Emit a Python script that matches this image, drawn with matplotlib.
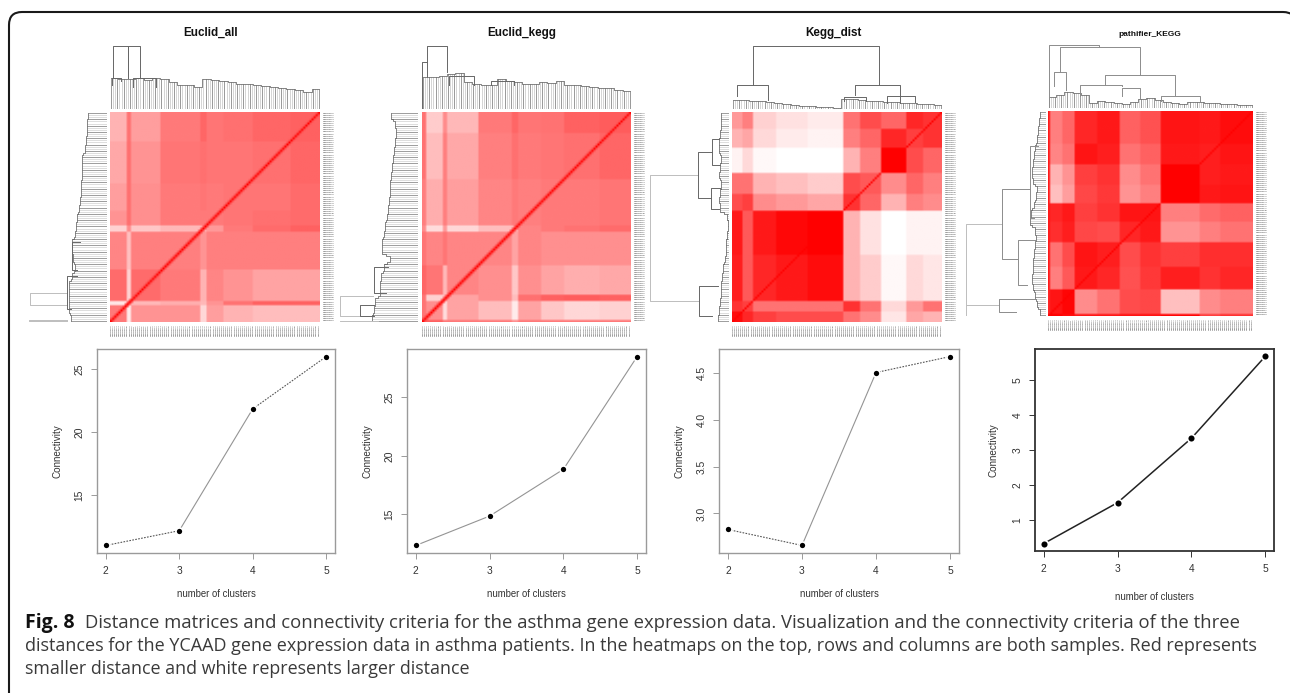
import matplotlib

matplotlib.use("Agg")
import matplotlib.pyplot as plt
import numpy as np
from matplotlib.colors import LinearSegmentedColormap
from matplotlib.patches import PathPatch
from matplotlib.path import Path

WIDTH = 1290
HEIGHT = 693
plt.rcParams["font.family"] = ["Liberation Sans", "DejaVu Sans"]

# connectivity curves
CLUSTERS = [2, 3, 4, 5]
CONN_ALL = [11.0, 12.17, 21.83, 25.98]
CONN_KEGG = [12.35, 14.86, 18.85, 28.48]
CONN_DIST = [2.83, 2.66, 4.50, 4.67]
CONN_PATH = [0.32, 1.49, 3.33, 5.67]
TICKS_ALL = [15, 20, 25]
TICKS_KEGG = [15, 20, 25]
TICKS_DIST = [3.0, 3.5, 4.0, 4.5]
TICKS_PATH = [1, 2, 3, 4, 5]
TITLES = ["Euclid_all", "Euclid_kegg", "Kegg_dist", "pathifier_KEGG"]

# heatmap blocks: edges in percent of the samples, values are redness 0-1
ALL_COLS = [0, 8, 9.5, 24, 43, 46, 54, 68, 86, 100]
ALL_ROWS = [0, 14, 34, 47, 54, 57, 75, 90, 92, 100]
ALL_CELLS = [
    [.30, .55, .38, .52, .60, .54, .56, .60, .62],
    [.34, .56, .42, .54, .56, .54, .54, .56, .60],
    [.38, .56, .44, .52, .54, .52, .54, .54, .58],
    [.42, .56, .44, .52, .52, .52, .54, .56, .58],
    [.18, .45, .22, .28, .32, .40, .52, .58, .62],
    [.48, .25, .50, .50, .42, .50, .50, .50, .50],
    [.58, .18, .58, .52, .30, .48, .42, .36, .36],
    [.10, .10, .28, .32, .28, .42, .55, .62, .62],
    [.52, .08, .42, .42, .16, .38, .30, .26, .26],
]

KEGG_COLS = [0, 1.6, 10, 12, 27, 43, 46, 56.5, 68, 85, 100]
KEGG_ROWS = [0, 10, 32, 54, 57, 73, 87, 90, 99, 100]
KEGG_CELLS = [
    [.55, .20, .45, .28, .52, .60, .54, .55, .62, .64],
    [.55, .26, .50, .34, .50, .56, .52, .54, .56, .60],
    [.50, .32, .50, .38, .48, .52, .50, .52, .52, .54],
    [.45, .14, .40, .16, .26, .30, .48, .52, .55, .58],
    [.54, .48, .54, .48, .48, .36, .48, .44, .44, .44],
    [.60, .54, .28, .48, .44, .22, .44, .36, .32, .34],
    [.54, .18, .28, .36, .44, .26, .56, .62, .64, .62],
    [.54, .44, .14, .36, .26, .08, .36, .22, .16, .18],
    [.62, .62, .52, .52, .52, .44, .52, .52, .52, .52],
]

DIST_COLS = [0, 5, 10, 20.6, 35.6, 53, 61, 70.7, 83, 91, 100]
DIST_ROWS = [0, 8.4, 17, 29, 38.6, 47, 68, 90, 95, 100]
DIST_CELLS = [
    [.40, .50, .18, .12, .08, .55, .70, .60, .85, .80],
    [.30, .35, .15, .08, .05, .50, .60, .85, .75, .80],
    [.05, .15, .03, .00, .00, .30, .50, 1.0, .70, .60],
    [.55, .55, .30, .25, .20, .70, .65, .45, .60, .50],
    [.70, .75, .45, .40, .35, .80, .60, .30, .50, .45],
    [.90, .65, .90, .97, 1.0, .30, .12, .00, .05, .05],
    [.88, .65, .85, .90, .95, .30, .20, .03, .15, .10],
    [.80, .75, .55, .55, .55, .80, .55, .15, .40, .55],
    [.95, .85, .75, .70, .70, .55, .45, .10, .35, .30],
]

PATH_COLS = [0, 1, 6.5, 13, 24, 35, 45, 55, 74, 84, 100]
PATH_ROWS = [0, 16, 26, 36, 45, 54, 64, 76, 87, 98.5, 100]
PATH_CELLS = [
    [.90, .50, .60, .85, .90, .62, .68, .92, .90, .95],
    [.90, .48, .55, .92, .88, .55, .62, .90, .88, .92],
    [.90, .30, .42, .75, .80, .45, .55, 1.0, .88, .90],
    [.90, .25, .38, .72, .78, .42, .50, 1.0, .90, .92],
    [.90, .85, .90, .75, .80, .92, .92, .50, .58, .62],
    [.90, .82, .88, .72, .70, .85, .90, .42, .50, .55],
    [.90, .55, .70, .92, .88, .70, .80, .75, .82, .82],
    [.90, .50, .65, .90, .85, .68, .78, .88, .80, .85],
    [.85, .92, .98, .45, .55, .70, .72, .25, .45, .50],
    [1.0, 1.0, .95, .90, .90, .92, .92, .98, .75, .80],
]

# dendrogram leaf heights, one value per 4 samples
ALL_TOP = [31, 30, 30, 31, 29, 31, 30, 27, 24, 24, 22, 30, 29, 28, 27, 25, 25, 24, 23, 22, 21, 20, 19, 17, 20]
ALL_LEFT = [19, 20, 20, 21, 22, 25, 25, 25, 26, 26, 27, 28, 30, 31, 32, 35, 35, 34, 32, 35, 38, 38, 38, 38, 36]
KEGG_TOP = [33, 33, 34, 36, 37, 27, 25, 24, 24, 30, 28, 27, 25, 25, 27, 26, 28, 24, 24, 23, 22, 21, 21, 19, 18]
KEGG_LEFT = [27, 23, 22, 23, 24, 25, 26, 27, 28, 28, 29, 30, 31, 33, 34, 36, 36, 28, 34, 37, 38, 38, 43, 44, 46]
DIST_TOP = [9, 9, 8, 8, 7, 6, 5, 4, 3, 3, 2, 2, 1, 10, 10, 9, 8, 8, 7, 7, 6, 6, 5, 5, 4]
DIST_LEFT = [8, 8, 9, 10, 10, 8, 9, 10, 8, 9, 10, 9, 2, 1, 2, 3, 3, 4, 6, 7, 8, 8, 9, 10, 11]
PATH_TOP = [11, 13, 16, 15, 13, 5, 7, 6, 5, 4, 6, 9, 10, 8, 6, 5, 4, 6, 6, 5, 5, 4, 4, 3, 3]
PATH_LEFT = [6, 7, 8, 9, 11, 12, 13, 14, 13, 9, 10, 12, 15, 16, 11, 10, 11, 12, 13, 13, 14, 13, 11, 9, 6]

# dendrogram upper merges: first leg, second leg, merge height, leg ends
ALL_TOP_LINKS = [(1.6, 8.7, 64, 31, 31), (8.7, 14.3, 64, 31, 33), (11, 22, 31, 22, 22), (1, 5, 31, 24, 28)]
ALL_LEFT_LINKS = [(86, 92, 77, 40, 40), (99, 99.5, 78, 40, 40), (78, 94, 40, 30, 36), (62, 75, 35, 27, 30)]
KEGG_TOP_LINKS = [(2.4, 12, 64, 33, 38), (0, 2.4, 48, 0, 48), (13, 25, 34, 24, 24), (33, 44, 28, 24, 24)]
KEGG_LEFT_LINKS = [(87.5, 97, 78, 45, 45), (99.5, 99.8, 78, 40, 40), (92, 97, 58, 44, 44), (74, 86, 44, 30, 32)]
DIST_TOP_LINKS = [
    (10, 70, 64, 24, 24), (2.4, 17, 24, 13, 9), (58.7, 80, 24, 14, 6),
    (74, 87, 13, 6, 7), (53.5, 64, 12, 8, 8),
]
DIST_LEFT_LINKS = [
    (30, 90, 79, 31, 30), (19, 41, 31, 17, 18), (13, 25, 17, 10, 9), (36, 46, 18, 9, 10),
    (83, 97, 30, 11, 17),
]
PATH_TOP_LINKS = [
    (0.5, 25, 64, 0, 62), (5.7, 45, 62, 37, 34), (2.8, 8.6, 37, 22, 18),
    (27.6, 62, 34, 23, 13), (15.4, 36, 23, 12, 22), (36, 45, 20, 12, 10), (55, 74, 12, 7, 7),
]
PATH_LEFT_LINKS = [
    (55, 100, 79, 43, 4), (38, 72, 43, 16, 28), (94.5, 94.6, 79, 46, 46), (91.5, 98, 46, 12, 30),
    (63, 85, 28, 10, 19), (17, 52, 16, 8, 12),
]

# pixel boxes: x0, y0, x1, y1
HEAT_BOXES = [(110, 112, 320, 322), (422, 112, 631, 322), (732, 112, 942, 322), (1048, 111, 1253, 316)]
TOP_BOXES = [(110, 45, 320, 109), (422, 45, 631, 109), (732, 45, 942, 109), (1048, 44, 1253, 108)]
LEFT_BOXES = [(28, 112, 107, 322), (339, 112, 418, 322), (650, 112, 729, 322), (966, 111, 1046, 316)]
LINE_BOXES = [(97, 349, 335, 553), (407, 349, 646, 553), (719, 349, 959, 553), (1035, 349, 1274, 551)]
TITLE_POS = [(211, 33), (522, 33), (833, 33), (1150, 34)]
DOTTED = [[0, 2], [], [0, 2], []]

SAMPLE_LABELS = [f"GSM4701{i:02d}" for i in range(100)]
CAPTION_1 = "Distance matrices and connectivity criteria for the asthma gene expression data. Visualization and the connectivity criteria of the three"
CAPTION_2 = "distances for the YCAAD gene expression data in asthma patients. In the heatmaps on the top, rows and columns are both samples. Red represents"
CAPTION_3 = "smaller distance and white represents larger distance"

red_map = LinearSegmentedColormap.from_list("redwhite", ["#ffffff", "#ff0000"])


def box_axes(fig, box):
    x0, y0, x1, y1 = box
    return fig.add_axes([x0 / WIDTH, 1 - y1 / HEIGHT, (x1 - x0) / WIDTH, (y1 - y0) / HEIGHT])


def draw_heatmap(ax, cols, rows, cells, thick_diag):
    idx = np.arange(100) + 0.5
    mat = np.array(cells)[np.ix_(np.searchsorted(rows, idx) - 1, np.searchsorted(cols, idx) - 1)]
    if thick_diag:
        mat[np.arange(1, 100), 100 - np.arange(1, 100)] = 0.68
        mat[np.arange(99), 98 - np.arange(99)] = 0.68
    mat[np.arange(100), 99 - np.arange(100)] = 1.0
    ax.imshow(mat, cmap=red_map, vmin=0, vmax=1, extent=(0, 100, 100, 0), aspect="auto", interpolation="bilinear")
    for side in ax.spines.values():
        side.set_visible(False)
    ax.yaxis.tick_right()
    ax.set_xticks(idx, SAMPLE_LABELS, rotation=90, fontsize=1.5, color="#333333")
    ax.set_yticks(idx, SAMPLE_LABELS, fontsize=1.5, color="#333333")
    ax.tick_params(length=0, pad=2)


def draw_top(ax, stems, links, color):
    leaf = np.arange(100) + 0.5
    heights = np.repeat(stems, 4)
    ax.vlines(leaf, 0, heights, color="#b5b5b5", lw=0.4)
    ax.vlines(leaf[::3], 0, heights[::3], color="#6e6e6e", lw=0.4)
    ax.step(leaf, heights, where="mid", color="#555555", lw=0.5)
    for a, b, h, ha, hb in links:
        ax.plot([a, a, b, b], [ha, h, h, hb], color=color, lw=0.7)
    ax.set_xlim(0, 100)
    ax.set_ylim(0, 65)
    ax.axis("off")


def draw_left(ax, stems, links, color):
    leaf = np.arange(100) + 0.5
    heights = np.repeat(stems, 4)
    ax.hlines(leaf, 0, heights, color="#c4c4c4", lw=0.4)
    ax.hlines(leaf[::3], 0, heights[::3], color="#6e6e6e", lw=0.4)
    ax.step(heights, leaf, where="mid", color="#555555", lw=0.5)
    for a, b, h, ha, hb in links:
        ax.plot([ha, h, h, hb], [a, a, b, b], color="#bdbdbd" if h >= 70 else color, lw=0.7)
    ax.set_xlim(79, 0)
    ax.set_ylim(100, 0)
    ax.axis("off")


def draw_line(ax, values, ticks, dotted, dark):
    edge = "#333333" if dark else "#9a9a9a"
    line = "#222222" if dark else "#949494"
    for seg in range(3):
        ax.plot(
            CLUSTERS[seg:seg + 2], values[seg:seg + 2], color="#555555" if seg in dotted else line,
            ls=(0, (1.5, 1.2)) if seg in dotted else "-", lw=1.1 if dark else 0.8, zorder=1,
        )
    ax.plot(
        CLUSTERS, values, "o", color="black", ms=5.0 if dark else 4.4,
        mec="white", mew=1.8, zorder=2,
    )
    ax.plot(CLUSTERS, values, "o", color="black", ms=4.4 if dark else 3.8, mew=0, zorder=3)
    ax.margins(0.04)
    ax.set_xticks(CLUSTERS)
    ax.set_yticks(ticks)
    ax.tick_params(axis="both", length=4, width=0.7, color=edge, labelsize=7.4, labelcolor="#333333", pad=5)
    plt.setp(ax.get_yticklabels(), rotation=90, va="center")
    for side in ax.spines.values():
        side.set_color(edge)
        side.set_linewidth(1.3 if dark else 1.0)
    ax.set_xlabel("number of clusters", fontsize=6.9, color="#333333", labelpad=13 if dark else 10)
    ax.set_ylabel("Connectivity", fontsize=7.1, color="#333333", labelpad=10 if dark else 8.5)


def main():
    fig = plt.figure(figsize=(WIDTH / 100, HEIGHT / 100), dpi=100)

    back = fig.add_axes([0, 0, 1, 1])
    back.set_xlim(0, WIDTH)
    back.set_ylim(HEIGHT, 0)
    back.axis("off")
    frame = Path(
        [(9, 700), (9, 25), (9, 12), (22, 12), (1283, 12), (1296, 12), (1296, 25)],
        [Path.MOVETO, Path.LINETO, Path.CURVE3, Path.CURVE3, Path.LINETO, Path.CURVE3, Path.CURVE3],
    )
    back.add_patch(PathPatch(frame, fc="none", ec="#1a1a1a", lw=1.5))

    heat_data = [
        (ALL_COLS, ALL_ROWS, ALL_CELLS),
        (KEGG_COLS, KEGG_ROWS, KEGG_CELLS),
        (DIST_COLS, DIST_ROWS, DIST_CELLS),
        (PATH_COLS, PATH_ROWS, PATH_CELLS),
    ]
    tops = [(ALL_TOP, ALL_TOP_LINKS), (KEGG_TOP, KEGG_TOP_LINKS), (DIST_TOP, DIST_TOP_LINKS), (PATH_TOP, PATH_TOP_LINKS)]
    lefts = [(ALL_LEFT, ALL_LEFT_LINKS), (KEGG_LEFT, KEGG_LEFT_LINKS), (DIST_LEFT, DIST_LEFT_LINKS), (PATH_LEFT, PATH_LEFT_LINKS)]
    curves = [(CONN_ALL, TICKS_ALL), (CONN_KEGG, TICKS_KEGG), (CONN_DIST, TICKS_DIST), (CONN_PATH, TICKS_PATH)]

    for i in range(4):
        color = "#8c8c8c" if i == 3 else "#666666"
        draw_heatmap(box_axes(fig, HEAT_BOXES[i]), *heat_data[i], i < 2)
        draw_top(box_axes(fig, TOP_BOXES[i]), tops[i][0], tops[i][1], color)
        draw_left(box_axes(fig, LEFT_BOXES[i]), lefts[i][0], lefts[i][1], color)
        draw_line(box_axes(fig, LINE_BOXES[i]), curves[i][0], curves[i][1], DOTTED[i], i == 3)
        back.text(
            TITLE_POS[i][0], TITLE_POS[i][1], TITLES[i], ha="center", va="center",
            fontsize=6.0 if i == 3 else 8.4, fontweight="bold", color="#111111",
        )

    cap = {"family": ["Open Sans", "DejaVu Sans"], "color": "#3a3a3a", "va": "baseline"}
    back.text(25, 628, "Fig. 8", fontweight="bold", fontsize=14, **{**cap, "color": "#111111"})
    back.text(85, 628, CAPTION_1, fontsize=13.3, **cap)
    back.text(25, 651, CAPTION_2, fontsize=13.0, **cap)
    back.text(25, 674, CAPTION_3, fontsize=12.9, **cap)

    fig.savefig("out.png", dpi=100)


if __name__ == "__main__":
    main()
